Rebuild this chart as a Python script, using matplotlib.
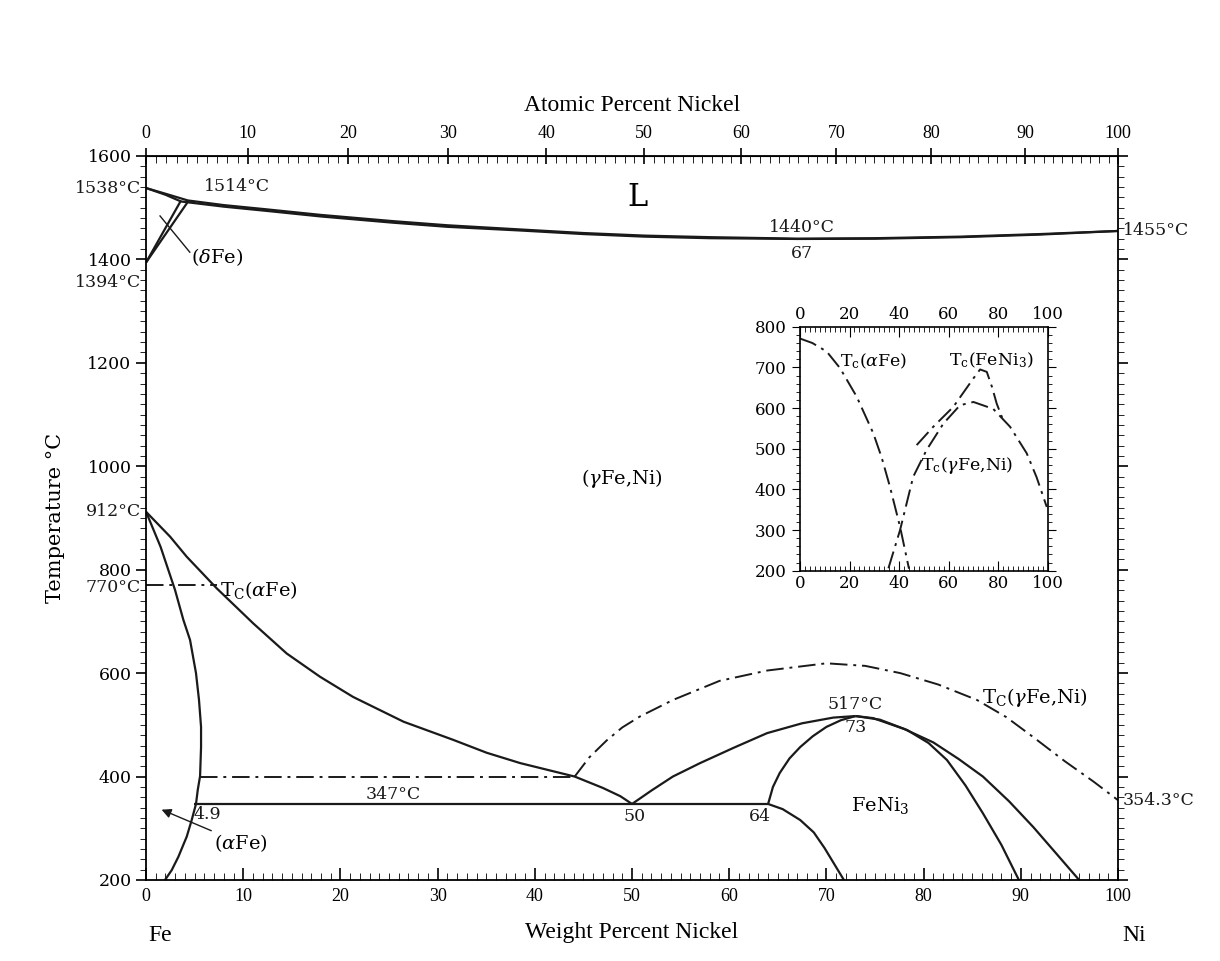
import numpy as np
import matplotlib
matplotlib.use("Agg")
from matplotlib import pyplot as plt
from matplotlib.ticker import MultipleLocator

plt.rcParams["font.family"] = ["DejaVu Serif"]
plt.rcParams["mathtext.fontset"] = "dejavuserif"

# --- main diagram, weight % Ni vs temperature (deg C) ---
liquidus_x = [0, 2, 4.3, 8, 12.3, 18, 25.4, 31, 38.4, 45, 51.3, 58, 64.3, 67, 75, 83.8, 92, 100]
liquidus_t = [1538, 1527, 1514, 1505, 1497, 1486, 1474, 1466, 1458, 1451, 1446, 1443, 1441, 1440, 1441, 1444, 1449, 1455]
solidus_x = [0, 2, 3.6, 8, 12.3, 18, 25.4, 31, 38.4, 45, 51.3, 58, 64.3, 67, 75, 83.8, 92, 100]
solidus_t = [1538, 1525, 1512, 1502, 1494, 1483, 1471, 1463, 1456, 1449, 1444, 1441, 1440, 1439.5, 1440, 1443, 1448, 1455]

delta_a_x = [0, 3.6]
delta_a_t = [1394, 1514]
delta_b_x = [0, 4.4]
delta_b_t = [1394, 1514]

alpha_x = [0, 1.5, 2.98, 3.84, 4.53, 5.14, 5.45, 5.66, 5.66, 5.56, 5.32, 5.14, 4.7, 4.19, 3.33, 2.64, 1.95]
alpha_t = [912, 844, 761, 703, 664, 600, 548, 496, 457, 401, 374, 347, 316, 284, 245, 219, 200]

gamma_x = [0, 2.47, 4.19, 7.27, 11.04, 14.47, 17.9, 21.3, 26.5, 31.6, 35.05, 38.5, 41.3, 44.1, 47.0, 48.8, 50]
gamma_t = [912, 864, 825, 764, 696, 638, 593, 554, 506, 471, 446, 426, 413, 400, 378, 362, 347]

eutectoid_x = [4.9, 64]
eutectoid_t = [347, 347]

g_fe3_x = [50, 52, 54.2, 57, 60.5, 63.9, 67.5, 70.7, 73]
g_fe3_t = [347, 373, 400, 426, 456, 484, 503, 514, 517]
fe3_left_x = [64, 64.5, 65.2, 66.2, 67.3, 68.6, 70, 71.5, 73]
fe3_left_t = [347, 380, 407, 435, 457, 478, 496, 509, 517]
fe3_low_x = [64, 65.5, 67.3, 68.7, 69.8, 70.8, 71.8]
fe3_low_t = [347, 337, 316, 292, 262, 231, 200]
fe3_right_x = [73, 75.5, 78.3, 80.5, 82.4, 84.3, 86.1, 88, 89.8]
fe3_right_t = [517, 510, 490, 465, 432, 383, 329, 268, 200]
g_right_x = [73, 74.8, 78, 81, 83.6, 86.1, 88.8, 91.3, 93.7, 96]
g_right_t = [517, 513, 492, 466, 434, 400, 352, 302, 250, 200]

tc_alpha_x = [0, 7.3]
tc_alpha_t = [770, 770]
tc_400_x = [5.6, 44.1]
tc_400_t = [400, 400]
tc_gamma_x = [44.1, 45.6, 47.4, 49, 50.8, 54.2, 59, 63.9, 70, 74, 77.6, 81.5, 85.5, 88.5, 91.3, 94.5, 97.5, 100]
tc_gamma_t = [400, 437, 470, 495, 516, 548, 585, 605, 619, 614, 600, 578, 548, 515, 476, 430, 390, 354.3]

# --- inset: Curie temperatures ---
in_alpha_x = [0, 5, 10.8, 16.2, 22.9, 29.6, 33, 36.3, 40.4, 44]
in_alpha_t = [771, 760, 739, 698, 628, 538, 478, 407, 308, 205]
in_gamma_x = [35.7, 40.4, 45.7, 51.1, 57.9, 64.6, 70, 78, 84.8, 91.5, 95.5, 99.6]
in_gamma_t = [206, 300, 431, 497, 562, 607, 615, 598, 554, 489, 430, 357]
in_fe3_x = [47.1, 53.8, 61.9, 70, 72.7, 75.4, 77.5, 79.4, 82]
in_fe3_t = [509, 554, 603, 673, 695, 689, 652, 611, 570]

FE, NI = 55.845, 58.693


def wt2at(w):
    w = np.clip(np.asarray(w, dtype=float), 0, 100)
    a = w / NI
    b = (100 - w) / FE
    return 100 * a / np.maximum(a + b, 1e-9)


def at2wt(a):
    a = np.clip(np.asarray(a, dtype=float), 0, 100)
    return 100 * a * NI / np.maximum(a * NI + (100 - a) * FE, 1e-9)


DASH = (0, (9, 3, 1.5, 3))
LW = 1.6

fig = plt.figure(figsize=(12.2, 9.61), dpi=100)
ax = fig.add_axes([0.1197, 0.0843, 0.7967, 0.7534])
ax.set_xlim(0, 100)
ax.set_ylim(200, 1600)

for xs, ts in [(liquidus_x, liquidus_t), (solidus_x, solidus_t),
               (delta_a_x, delta_a_t), (delta_b_x, delta_b_t),
               (alpha_x, alpha_t), (gamma_x, gamma_t),
               (eutectoid_x, eutectoid_t), (g_fe3_x, g_fe3_t),
               (fe3_left_x, fe3_left_t), (fe3_low_x, fe3_low_t),
               (fe3_right_x, fe3_right_t), (g_right_x, g_right_t)]:
    ax.plot(xs, ts, color="#1a1a1a", lw=LW, solid_capstyle="butt",
            solid_joinstyle="round")
for xs, ts in [(tc_alpha_x, tc_alpha_t), (tc_400_x, tc_400_t),
               (tc_gamma_x, tc_gamma_t)]:
    ax.plot(xs, ts, color="#1a1a1a", lw=1.4, linestyle=DASH)

# axes styling
ax.xaxis.set_major_locator(MultipleLocator(10))
ax.xaxis.set_minor_locator(MultipleLocator(1))
ax.yaxis.set_major_locator(MultipleLocator(200))
ax.yaxis.set_minor_locator(MultipleLocator(20))
ax.tick_params(axis="x", which="major", direction="in", length=9, width=1.2,
               labelsize=13, pad=6)
ax.tick_params(axis="x", which="minor", direction="in", length=5)
ax.tick_params(axis="y", which="both", direction="out", right=True,
               labelright=False)
ax.tick_params(axis="y", which="major", length=7, width=1.2, labelsize=12.5)
ax.tick_params(axis="y", which="minor", length=4)
for lab in ax.get_xticklabels():
    lab.set_family("Liberation Serif")
for sp in ax.spines.values():
    sp.set_linewidth(1.3)

ax.set_xlabel("Weight Percent Nickel", family="Liberation Serif",
              fontsize=17, labelpad=12)
ax.set_ylabel("Temperature °C", fontsize=15, labelpad=16)

top = ax.secondary_xaxis("top", functions=(wt2at, at2wt))
top.set_xticks(np.arange(0, 101, 10))
top.xaxis.set_minor_locator(MultipleLocator(1))
top.tick_params(which="major", direction="inout", length=12, width=1.2,
                labelsize=13, pad=4)
top.tick_params(which="minor", direction="in", length=5)
for lab in top.get_xticklabels():
    lab.set_family("Liberation Serif")
top.set_xlabel("Atomic Percent Nickel", family="Liberation Serif",
               fontsize=17, labelpad=10)

# annotations
kw = dict(fontsize=12.5, color="#1a1a1a")
ax.text(-0.5, 1538, "1538°C", ha="right", va="center", clip_on=False, **kw)
ax.text(-0.5, 1356, "1394°C", ha="right", va="center", clip_on=False, **kw)
ax.text(-0.5, 912, "912°C", ha="right", va="center", clip_on=False, **kw)
ax.text(-0.5, 766, "770°C", ha="right", va="center", clip_on=False, **kw)
ax.text(100.5, 1455, "1455°C", ha="left", va="center", clip_on=False, **kw)
ax.text(100.5, 354.3, "354.3°C", ha="left", va="center", clip_on=False, **kw)
ax.text(6.0, 1540, "1514°C", ha="left", va="center", **kw)
ax.text(50.6, 1519, "L", ha="center", va="center", fontsize=22)
ax.text(67.5, 1461, "1440°C", ha="center", va="center", **kw)
ax.text(67.5, 1411, "67", ha="center", va="center", **kw)
ax.text(49, 977, "($\\gamma$Fe,Ni)", ha="center", va="center", fontsize=14)
ax.text(7.6, 760, "T$_{\\rm C}$($\\alpha$Fe)", ha="left", va="center",
        fontsize=14)
ax.text(86, 553, "T$_{\\rm C}$($\\gamma$Fe,Ni)", ha="left", va="center",
        fontsize=14)
ax.text(73, 540, "517°C", ha="center", va="center", **kw)
ax.text(73, 494, "73", ha="center", va="center", **kw)
ax.text(75.5, 345, "FeNi$_3$", ha="center", va="center", fontsize=14)
ax.text(63.2, 322, "64", ha="center", va="center", **kw)
ax.text(50.3, 322, "50", ha="center", va="center", **kw)
ax.text(25.4, 366, "347°C", ha="center", va="center", **kw)
ax.text(4.9, 326, "4.9", ha="left", va="center", **kw)
ax.text(4.6, 1405, "($\\delta$Fe)", ha="left", va="center", fontsize=14)
ax.plot([1.44, 4.5], [1484, 1414], color="#1a1a1a", lw=1.0)
ax.annotate("($\\alpha$Fe)", xy=(1.6, 336), xytext=(7.0, 271),
            ha="left", va="center", fontsize=14,
            arrowprops=dict(arrowstyle="-|>", color="#1a1a1a", lw=1.0,
                            mutation_scale=14, shrinkA=0, shrinkB=0))
ax.text(1.5, 93, "Fe", ha="center", va="center", family="Liberation Serif",
        fontsize=17, clip_on=False)
ax.text(101.7, 93, "Ni", ha="center", va="center", family="Liberation Serif",
        fontsize=17, clip_on=False)

# inset
ins = fig.add_axes([0.6557, 0.4061, 0.2031, 0.2539])
ins.set_xlim(0, 100)
ins.set_ylim(200, 800)
ins.plot(in_alpha_x, in_alpha_t, color="#1a1a1a", lw=1.4, linestyle=DASH)
ins.plot(in_gamma_x, in_gamma_t, color="#1a1a1a", lw=1.4, linestyle=DASH)
ins.plot(in_fe3_x, in_fe3_t, color="#1a1a1a", lw=1.4, linestyle=DASH)
ins.xaxis.set_major_locator(MultipleLocator(20))
ins.xaxis.set_minor_locator(MultipleLocator(2))
ins.yaxis.set_major_locator(MultipleLocator(100))
ins.yaxis.set_minor_locator(MultipleLocator(20))
ins.tick_params(axis="x", which="both", top=True, labeltop=True,
                direction="in", labelsize=12, pad=3)
ins.tick_params(axis="x", which="major", length=7)
ins.tick_params(axis="x", which="minor", length=3.5)
ins.tick_params(axis="y", which="both", right=True, direction="out",
                labelsize=12)
ins.tick_params(axis="y", which="major", length=6)
ins.tick_params(axis="y", which="minor", length=3, right=True)
for sp in ins.spines.values():
    sp.set_linewidth(1.2)
ins.text(16, 716, "T$_{\\rm c}$($\\alpha$Fe)", ha="left", va="center",
         fontsize=12.5)
ins.text(60, 718, "T$_{\\rm c}$(FeNi$_3$)", ha="left", va="center",
         fontsize=12.5)
ins.text(49, 460, "T$_{\\rm c}$($\\gamma$Fe,Ni)", ha="left", va="center",
         fontsize=12.5)

fig.savefig("out.png", dpi=100)
